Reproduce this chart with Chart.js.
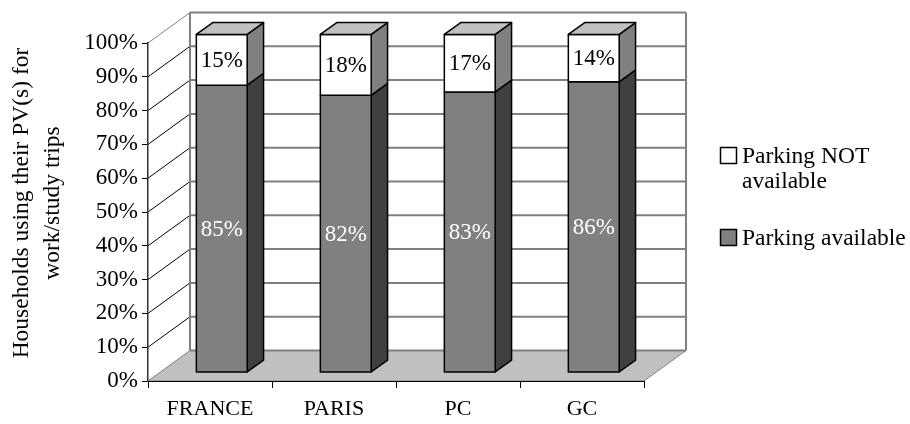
<!DOCTYPE html>
<html>
<head>
<meta charset="utf-8">
<script src="https://cdn.jsdelivr.net/npm/chart.js@4.4.1/dist/chart.umd.min.js"></script>
<style>
  html, body { margin: 0; padding: 0; background: #fff; }
  #wrap { width: 910px; height: 424px; }
</style>
</head>
<body>
<div id="wrap"><canvas id="chart" width="910" height="424"></canvas></div>
<script>
/* ================================
   Data
================================ */
const categories = ["FRANCE", "PARIS", "PC", "GC"];
const parkingAvailable = [85, 82, 83, 86];
const parkingNotAvailable = [15, 18, 17, 14];
const yTicks = [0, 10, 20, 30, 40, 50, 60, 70, 80, 90, 100];
const seriesNames = ["Parking available", "Parking NOT available"];
const yTitle = ["Households using their PV(s) for", "work/study trips"];

/* ================================
   Look
================================ */
const FONT = "'Liberation Serif', 'DejaVu Serif', serif";
const WALL = { dx: 42, dy: -30.5 };   // depth of the 3D box
const BAR_FRONT = 0.28;               // where the bar front sits in the depth
const BAR_DEPTH = 0.39;               // how deep a bar is
const faceColors = ["#808080", "#ffffff"];
const sideColors = ["#404040", "#808080"];
const topColor = "#c0c0c0";
const labelColors = ["#ffffff", "#000000"];

/* ================================
   Helpers
================================ */
function poly(ctx, pts, fill) {
  ctx.beginPath();
  ctx.moveTo(pts[0][0], pts[0][1]);
  pts.slice(1).forEach(p => ctx.lineTo(p[0], p[1]));
  ctx.closePath();
  ctx.fillStyle = fill;
  ctx.fill();
  ctx.stroke();
}

function line(ctx, x1, y1, x2, y2) {
  ctx.beginPath();
  ctx.moveTo(x1, y1);
  ctx.lineTo(x2, y2);
  ctx.stroke();
}

/* ================================
   Back wall, side wall, floor
================================ */
const walls3d = {
  id: "walls3d",
  beforeDraw(chart) {
    const { ctx, chartArea: a, scales: { y } } = chart;
    const { dx, dy } = WALL;
    ctx.save();

    // floor
    ctx.strokeStyle = "#808080";
    ctx.lineWidth = 1;
    poly(ctx, [
      [a.left, a.bottom], [a.right, a.bottom],
      [a.right + dx, a.bottom + dy], [a.left + dx, a.bottom + dy]
    ], "#c0c0c0");

    // gridlines
    yTicks.forEach((v, i) => {
      const py = y.getPixelForValue(v);
      ctx.strokeStyle = "#808080";
      ctx.lineWidth = 2;
      line(ctx, a.left + dx, py + dy, a.right + dx, py + dy);
      ctx.lineWidth = 1;
      ctx.strokeStyle = i === yTicks.length - 1 ? "#808080" : "#000";
      if (i > 0) line(ctx, a.left, py, a.left + dx, py + dy);
    });

    // back wall edges
    ctx.strokeStyle = "#808080";
    ctx.lineWidth = 2;
    const top = y.getPixelForValue(100) + dy;
    const bot = y.getPixelForValue(0) + dy;
    line(ctx, a.left + dx, top, a.left + dx, bot);
    line(ctx, a.right + dx, top, a.right + dx, bot);

    // y title
    ctx.fillStyle = "#000";
    ctx.font = `23.5px ${FONT}`;
    ctx.textAlign = "center";
    ctx.textBaseline = "middle";
    ctx.translate(22, 203);
    ctx.rotate(-Math.PI / 2);
    yTitle.forEach((t, i) => ctx.fillText(t, 0, i * 31));
    ctx.restore();
  }
};

/* ================================
   3D bars + labels + legend
================================ */
const bars3d = {
  id: "bars3d",
  afterDatasetsDraw(chart) {
    const { ctx } = chart;
    const ox = WALL.dx * BAR_FRONT, oy = WALL.dy * BAR_FRONT;
    const bx = WALL.dx * BAR_DEPTH, by = WALL.dy * BAR_DEPTH;
    const last = chart.data.datasets.length - 1;

    ctx.save();
    ctx.strokeStyle = "#000";
    ctx.lineWidth = 1.5;
    ctx.lineJoin = "round";

    chart.data.datasets.forEach((ds, di) => {
      const meta = chart.getDatasetMeta(di);
      meta.data.forEach((bar, i) => {
        const { x, y, base, width } = bar.getProps(["x", "y", "base", "width"], true);
        const l = x - width / 2 + ox, r = x + width / 2 + ox;
        const t = y + oy, b = base + oy;

        poly(ctx, [[r, b], [r + bx, b + by], [r + bx, t + by], [r, t]], sideColors[di]);
        poly(ctx, [[l, b], [r, b], [r, t], [l, t]], faceColors[di]);
        if (di === last) {
          poly(ctx, [[l, t], [r, t], [r + bx, t + by], [l + bx, t + by]], topColor);
        }

        ctx.fillStyle = labelColors[di];
        ctx.font = `23px ${FONT}`;
        ctx.textAlign = "center";
        ctx.textBaseline = "middle";
        ctx.fillText(ds.data[i] + "%", (l + r) / 2, (t + b) / 2 + 1);
      });
    });
    ctx.restore();
  },
  afterDraw(chart) {
    const { ctx } = chart;
    ctx.save();
    ctx.font = `23.5px ${FONT}`;
    ctx.textAlign = "left";
    ctx.textBaseline = "alphabetic";
    ctx.strokeStyle = "#000";
    ctx.lineWidth = 1.5;

    // NOT available (top entry)
    ctx.fillStyle = faceColors[1];
    ctx.fillRect(720.5, 147.5, 16, 16);
    ctx.strokeRect(720.5, 147.5, 16, 16);
    ctx.fillStyle = "#000";
    const words = seriesNames[1].split(" ");
    ctx.fillText(words.slice(0, 2).join(" "), 742, 163);
    ctx.fillText(words.slice(2).join(" "), 742, 188);

    // available
    ctx.fillStyle = faceColors[0];
    ctx.fillRect(720.5, 229.5, 16, 16);
    ctx.strokeRect(720.5, 229.5, 16, 16);
    ctx.fillStyle = "#000";
    ctx.fillText(seriesNames[0], 742, 245);
    ctx.restore();
  }
};

/* ================================
   Chart
================================ */
new Chart(document.getElementById("chart"), {
  type: "bar",
  data: {
    labels: categories,
    datasets: [
      { label: seriesNames[0], data: parkingAvailable, backgroundColor: "rgba(0,0,0,0)", borderWidth: 0 },
      { label: seriesNames[1], data: parkingNotAvailable, backgroundColor: "rgba(0,0,0,0)", borderWidth: 0 }
    ]
  },
  options: {
    responsive: false,
    animation: false,
    events: [],
    layout: { padding: { top: 43, right: 266, bottom: 0, left: 0 } },
    datasets: { bar: { categoryPercentage: 1, barPercentage: 0.41 } },
    plugins: {
      legend: { display: false },
      tooltip: { enabled: false }
    },
    scales: {
      x: {
        stacked: true,
        afterFit: s => { s.height = 43; },
        grid: { offset: true, drawOnChartArea: false, tickLength: 7, color: "#000" },
        border: { color: "#000", width: 1 },
        ticks: { color: "#000", padding: 8, font: { family: FONT, size: 22 } }
      },
      y: {
        stacked: true,
        min: 0,
        max: 100,
        afterFit: s => { s.width = 148; },
        afterBuildTicks: s => { s.ticks = yTicks.map(v => ({ value: v })); },
        grid: { drawOnChartArea: false, tickLength: 6, color: "#000" },
        border: { color: "#333", width: 1.5 },
        ticks: {
          color: "#000",
          padding: 4,
          font: { family: FONT, size: 23 },
          callback: v => v + "%"
        }
      }
    }
  },
  plugins: [walls3d, bars3d]
});
</script>
</body>
</html>
